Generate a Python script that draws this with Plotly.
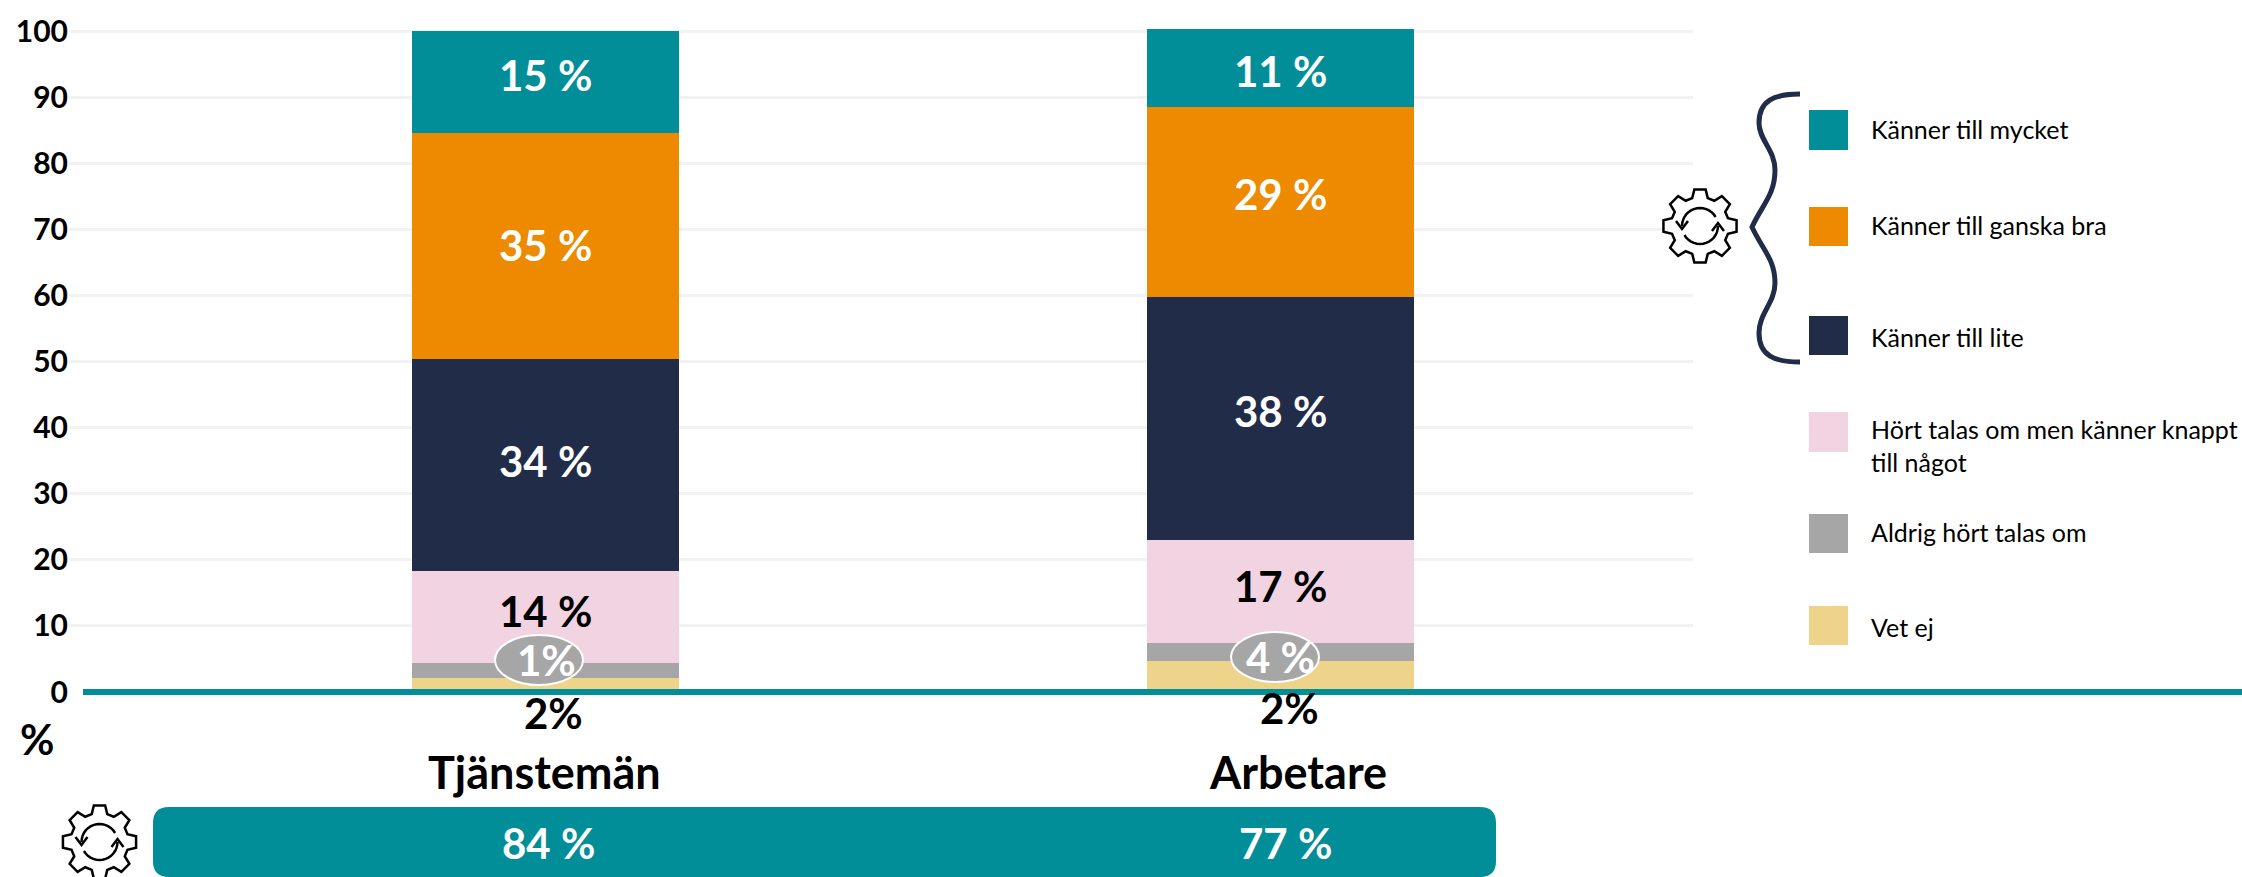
import math
import plotly.graph_objects as go

# ---- data ----
categories = ["Tjänstemän", "Arbetare"]
series_names = ["Vet ej", "Aldrig hört talas om", "Hört talas om men känner knappt till något",
                "Känner till lite", "Känner till ganska bra", "Känner till mycket"]
vet_ej = [2.1, 4.7]
aldrig = [2.3, 2.7]
hort = [13.9, 15.6]
lite = [32.1, 36.8]
ganska = [34.2, 28.7]
mycket = [15.4, 11.8]
label_hort = ["14 %", "17 %"]
label_lite = ["34 %", "38 %"]
label_ganska = ["35 %", "29 %"]
label_mycket = ["15 %", "11 %"]
label_aldrig = ["1%", "4 %"]
label_vet_ej = ["2%", "2%"]
summary = ["84 %", "77 %"]
y_ticks = [0, 10, 20, 30, 40, 50, 60, 70, 80, 90, 100]

TEAL, ORANGE, NAVY, PINK, GRAY, YELLOW = "#028e98", "#ed8a00", "#212c49", "#f2d3e2", "#a6a6a6", "#eed48b"
FONT = "Lato, Carlito, Calibri, sans-serif"

# ---- frame geometry in page pixels ----
W, H = 2242, 877
L, R, T, B = 69, 1693, 25, 692
BAR_DX = 735.0
X0 = -(545.5 - L) / BAR_DX
X1 = 1 + (R - 1280.5) / BAR_DX
def px(x): return (x - L) / (R - L)
def py(y): return (B - y) / (B - T)

fig = go.Figure()
rows = [
    (series_names[0], vet_ej, YELLOW),
    (series_names[1], aldrig, GRAY),
    (series_names[2], hort, PINK),
    (series_names[3], lite, NAVY),
    (series_names[4], ganska, ORANGE),
    (series_names[5], mycket, TEAL),
]
for name, vals, col in rows:
    fig.add_trace(go.Bar(x=categories, y=vals, name=name, width=0.363, showlegend=False,
                         marker=dict(color=col, line=dict(width=0))))

shapes, annos = [], []

def note(x, y, text, size, color="black", bold=True, anchor="center"):
    annos.append(dict(xref="paper", yref="paper", x=px(x), y=py(y), text=text, showarrow=False,
                      xanchor=anchor, yanchor="middle", align="left",
                      font=dict(family=FONT, size=size, color=color, weight="bold" if bold else "normal")))

# segment labels: placed at each segment's middle from the data, nudged as in the reference
base = [a + b for a, b in zip(vet_ej, aldrig)]
for seg, labels, color, nudges in [(hort, label_hort, "black", (6, 6)),
                                   (lite, label_lite, "white", (4, 7)),
                                   (ganska, label_ganska, "white", (1, 8)),
                                   (mycket, label_mycket, "white", (7, -3))]:
    for i, cat in enumerate(categories):
        annos.append(dict(xref="x", yref="y", x=cat, y=base[i] + seg[i] / 2, yshift=nudges[i], text=labels[i],
                          showarrow=False, xanchor="center", yanchor="middle",
                          font=dict(family=FONT, size=42, color=color, weight="bold")))
    base = [b + s for b, s in zip(base, seg)]

# baseline
shapes.append(dict(type="line", xref="paper", yref="paper", x0=px(83), x1=px(W), y0=py(692), y1=py(692),
                   line=dict(color=TEAL, width=6), layer="above"))

# ellipses holding the small labels
for cx, cy, txt, lx in [(539, 660, label_aldrig[0], 546), (1275, 657, label_aldrig[1], 1280)]:
    shapes.append(dict(type="circle", xref="paper", yref="paper",
                       x0=px(cx - 44), x1=px(cx + 44), y0=py(cy + 25), y1=py(cy - 25),
                       fillcolor=GRAY, line=dict(color="white", width=2), layer="above"))
    note(lx, cy, txt, 42, "white")

note(553, 713, label_vet_ej[0], 42)
note(1289, 708, label_vet_ej[1], 42)
note(37, 739, "%", 42)
note(544, 772, categories[0], 45)
note(1298, 772, categories[1], 45)

# summary band
x0b, x1b, y0b, y1b, r = 153, 1496, 807, 877, 16
def P(x, y): return f"{px(x):.5f},{py(y):.5f}"
band = (f"M{P(x0b + r, y0b)} L{P(x1b - r, y0b)} Q{P(x1b, y0b)} {P(x1b, y0b + r)} "
        f"L{P(x1b, y1b - r)} Q{P(x1b, y1b)} {P(x1b - r, y1b)} L{P(x0b + r, y1b)} "
        f"Q{P(x0b, y1b)} {P(x0b, y1b - r)} L{P(x0b, y0b + r)} Q{P(x0b, y0b)} {P(x0b + r, y0b)} Z")
shapes.append(dict(type="path", xref="paper", yref="paper", path=band, fillcolor=TEAL, line=dict(width=0), layer="above"))
note(548, 843, summary[0], 42, "white")
note(1285, 843, summary[1], 42, "white")

# gear icon
def gear(cx, cy, ro=37, ri=29, teeth=8):
    pts = []
    for i in range(teeth):
        a = 2 * math.pi * i / teeth - math.pi / 2
        s = 2 * math.pi / teeth
        for da, rad in [(-0.30, ri), (-0.17, ro), (0.17, ro), (0.30, ri)]:
            b = a + da * s * 1.15
            pts.append(P(cx + rad * math.cos(b), cy + rad * math.sin(b)))
    shapes.append(dict(type="path", xref="paper", yref="paper", path="M" + " L".join(pts) + " Z",
                       line=dict(color="black", width=2.5), fillcolor="white", layer="above"))
    for start, end in [(180, 330), (0, 150)]:
        arc = [P(cx + 18 * math.cos(math.radians(d)), cy + 18 * math.sin(math.radians(d)))
               for d in range(start, end + 1, 10)]
        shapes.append(dict(type="path", xref="paper", yref="paper", path="M" + " L".join(arc),
                           line=dict(color="black", width=2.5), layer="above"))
    left_head = f"M{P(cx - 24, cy - 5)} L{P(cx - 18, cy + 3)} L{P(cx - 12, cy - 5)}"
    right_head = f"M{P(cx + 12, cy + 5)} L{P(cx + 18, cy - 3)} L{P(cx + 24, cy + 5)}"
    for head in (left_head, right_head):
        shapes.append(dict(type="path", xref="paper", yref="paper", path=head,
                           line=dict(color="black", width=2.5), layer="above"))

gear(1700, 226)
gear(99.5, 842)

# brace
brace = (f"M{P(1800, 94)} C{P(1775, 94)} {P(1759, 100)} {P(1759, 123)} "
         f"C{P(1759, 140)} {P(1775, 150)} {P(1775, 170)} "
         f"C{P(1775, 195)} {P(1762, 205)} {P(1752, 227)} "
         f"C{P(1762, 249)} {P(1775, 259)} {P(1775, 283)} "
         f"C{P(1775, 303)} {P(1759, 313)} {P(1759, 333)} "
         f"C{P(1759, 356)} {P(1775, 362)} {P(1800, 362)}")
shapes.append(dict(type="path", xref="paper", yref="paper", path=brace,
                   line=dict(color=NAVY, width=5), layer="above"))

# hand-placed legend
legend_rows = [
    (TEAL, 110, 150, series_names[5], 129),
    (ORANGE, 207, 246, series_names[4], 225),
    (NAVY, 316, 355, series_names[3], 337),
    (PINK, 412, 452, "Hört talas om men känner knappt<br>till något", 445),
    (GRAY, 514, 553, series_names[1], 532),
    (YELLOW, 606, 645, series_names[0], 627),
]
for col, y0, y1, txt, ty in legend_rows:
    shapes.append(dict(type="rect", xref="paper", yref="paper", x0=px(1809), x1=px(1848), y0=py(y1), y1=py(y0),
                       fillcolor=col, line=dict(width=0), layer="above"))
    note(1869, ty, txt, 25, "black", bold=False, anchor="left")

fig.update_layout(
    width=W, height=H, barmode="stack", plot_bgcolor="white", paper_bgcolor="white",
    margin=dict(l=L, r=W - R, t=T, b=H - B, pad=0), autosize=False,
    xaxis=dict(type="category", categoryorder="array", categoryarray=categories, range=[X0, X1],
               showticklabels=False, showgrid=False, zeroline=False, showline=False, ticks=""),
    yaxis=dict(range=[0, (B - T) / 6.61], tickvals=y_ticks, showgrid=True, gridcolor="#f2f2f2", gridwidth=3,
               zeroline=False, showline=False, ticks="", ticklabelstandoff=0,
               tickfont=dict(family=FONT, size=30, color="black", weight="bold")),
    shapes=shapes, annotations=annos,
)
fig.write_html("out.html", config={"displayModeBar": False},
               post_script="document.body.style.margin='0';document.body.style.overflow='hidden';")
